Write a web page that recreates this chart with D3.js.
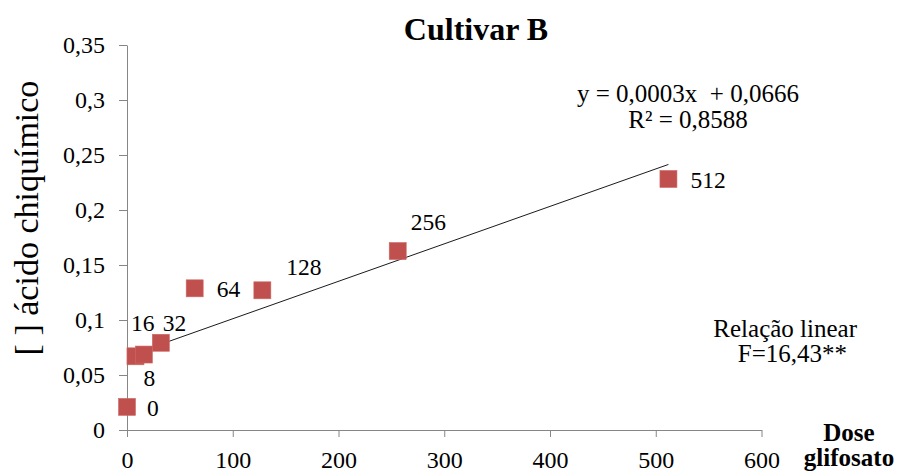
<!DOCTYPE html>
<html>
<head>
<meta charset="utf-8">
<script src="https://cdn.jsdelivr.net/npm/d3@7/dist/d3.min.js"></script>
<style>
  html, body { margin: 0; padding: 0; background: #fff; }
  svg text { font-family: "Liberation Serif", "Tinos", "Times New Roman", "Nimbus Roman", "DejaVu Serif", serif; }
</style>
</head>
<body>
<svg id="chart" width="897" height="472"></svg>
<script>
// Glyphosate dose (x) and shikimic acid concentration (y)
const doses = [0, 8, 16, 32, 64, 128, 256, 512];
const shikimic = [0.021, 0.067, 0.0686, 0.0793, 0.1288, 0.127, 0.1627, 0.2282];
const pointLabels = ["0", "8", "16", "32", "64", "128", "256", "512"];

const xTicks = [0, 100, 200, 300, 400, 500, 600];
const xTickLabels = ["0", "100", "200", "300", "400", "500", "600"];
const yTicks = [0, 0.05, 0.1, 0.15, 0.2, 0.25, 0.3, 0.35];
const yTickLabels = ["0", "0,05", "0,1", "0,15", "0,2", "0,25", "0,3", "0,35"];

const titleText = "Cultivar B";
const yTitle = "[ ] ácido chiquímico";
const xTitle = ["Dose", "glifosato"];
const equationLines = ["y = 0,0003x  + 0,0666", "R² = 0,8588"];
const statLines = ["Relação linear", "F=16,43**"];

// label placement relative to each point (pixels)
const labelOffsets = [[20, 9], [8, 30], [-13, -24], [2, -12], [22, 9], [24, -15], [13, -21], [22, 9]];

const svg = d3.select("#chart");
const axisColor = "#868686";

const x = d3.scaleLinear().domain([0, 600]).range([127, 761.5]);
const y = d3.scaleLinear().domain([0, 0.35]).range([430, 45]);

// y axis
const yAxis = svg.append("g")
  .attr("transform", `translate(${x(0)},0)`)
  .call(d3.axisLeft(y).tickValues(yTicks).tickSize(8).tickSizeOuter(0)
    .tickPadding(14).tickFormat((d, i) => yTickLabels[i]));
// x axis
const xAxis = svg.append("g")
  .attr("transform", `translate(0,${y(0)})`)
  .call(d3.axisBottom(x).tickValues(xTicks).tickSize(7).tickSizeOuter(0)
    .tickPadding(14).tickFormat((d, i) => xTickLabels[i]));

[xAxis, yAxis].forEach(g => {
  g.attr("font-family", null).attr("font-size", null);
  g.select(".domain").attr("stroke", axisColor);
  g.selectAll(".tick line").attr("stroke", axisColor);
  g.selectAll(".tick text")
    .attr("fill", "#000")
    .attr("font-size", 24);
});
yAxis.selectAll(".tick text").attr("dy", "0.33em");
xAxis.selectAll(".tick text").attr("dy", "0.7em");

// least-squares trend line through the data
const n = doses.length;
const mx = d3.mean(doses), my = d3.mean(shikimic);
let sxy = 0, sxx = 0;
for (let i = 0; i < n; i++) {
  sxy += (doses[i] - mx) * (shikimic[i] - my);
  sxx += (doses[i] - mx) ** 2;
}
const slope = sxy / sxx;
const intercept = my - slope * mx;
const xExt = d3.extent(doses);
svg.append("line")
  .attr("x1", x(xExt[0])).attr("y1", y(intercept + slope * xExt[0]))
  .attr("x2", x(xExt[1])).attr("y2", y(intercept + slope * xExt[1]))
  .attr("stroke", "#1a1a1a").attr("stroke-width", 1);

// data markers
const size = 17;
svg.append("g").selectAll("rect")
  .data(doses)
  .join("rect")
  .attr("x", (d) => x(d) - size / 2)
  .attr("y", (d, i) => y(shikimic[i]) - size / 2)
  .attr("width", size).attr("height", size)
  .attr("fill", "#C0504D")
  .attr("stroke", "#CC6A67").attr("stroke-width", 0.6);

// dose labels next to markers
svg.append("g").selectAll("text")
  .data(doses)
  .join("text")
  .attr("x", (d, i) => x(d) + labelOffsets[i][0])
  .attr("y", (d, i) => y(shikimic[i]) + labelOffsets[i][1])
  .attr("font-size", 23.5)
  .text((d, i) => pointLabels[i]);

// title
svg.append("text")
  .attr("x", 476).attr("y", 40)
  .attr("text-anchor", "middle")
  .attr("font-size", 32).attr("font-weight", "bold")
  .text(titleText);

// y axis title
svg.append("text")
  .attr("transform", "translate(38,218) rotate(-90)")
  .attr("text-anchor", "middle")
  .attr("font-size", 34)
  .text(yTitle);

// x axis title
svg.append("g").selectAll("text")
  .data(xTitle)
  .join("text")
  .attr("x", 849).attr("y", (d, i) => 441 + i * 25)
  .attr("text-anchor", "middle")
  .attr("font-size", 25).attr("font-weight", "bold")
  .text(d => d);

// regression equation
svg.append("g").selectAll("text")
  .data(equationLines)
  .join("text")
  .attr("x", 688).attr("y", (d, i) => 102 + i * 26)
  .attr("text-anchor", "middle")
  .attr("font-size", 25)
  .style("white-space", "pre")
  .text(d => d);

// F test annotation
svg.append("text")
  .attr("x", 857).attr("y", 337)
  .attr("text-anchor", "end")
  .attr("font-size", 25)
  .text(statLines[0]);
svg.append("text")
  .attr("x", 847).attr("y", 362)
  .attr("text-anchor", "end")
  .attr("font-size", 25)
  .text(statLines[1]);
</script>
</body>
</html>
